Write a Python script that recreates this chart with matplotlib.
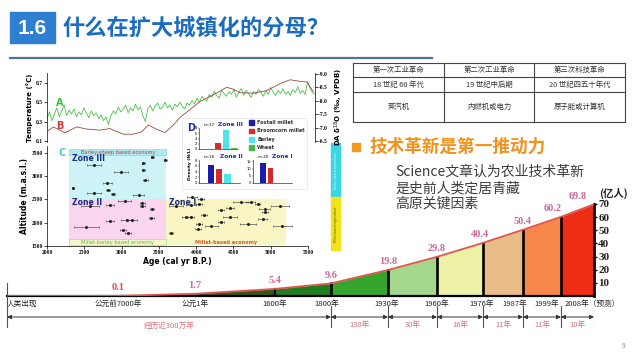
import numpy as np
import matplotlib
matplotlib.use('Agg')
import matplotlib.pyplot as plt
from matplotlib.patches import Rectangle

plt.rcParams['font.family'] = ['Noto Sans CJK SC', 'DejaVu Sans']

W, H = 640, 360

# ---------------- population chart (bottom) ----------------
milestones = ['人类出现', '公元前7000年', '公元1年', '1600年', '1800年', '1930年',
              '1960年', '1976年', '1987年', '1999年', '2008年（预测）']
milestone_pos = [0, 111, 188, 268, 324, 381, 430, 476, 516, 554, 587]   # schematic (uneven) axis
population = [0.0, 0.1, 1.7, 5.4, 9.6, 19.8, 29.8, 40.4, 50.4, 60.2, 69.8]  # 亿人
span_idx = [0, 4, 5, 6, 7, 8, 9, 10]
span_labels = ['经历近300万年', '130年', '30年', '16年', '11年', '11年', '10年']
fill_colors = ['#7a1f14', '#6a2a12', '#35561a', '#1f7d22', '#36a52e', '#a3d78b',
               '#eef2a6', '#e9bc88', '#f7874b', '#ef2d14']

# ---------------- table ----------------
table_rows = [['第一次工业革命', '第二次工业革命', '第三次科技革命'],
              ['18 世纪 60 年代', '19 世纪中后期', '20 世纪四五十年代'],
              ['蒸汽机', '内燃机或电力', '原子能或计算机']]

# ---------------- science figure, panel A/B ----------------
temp_a = [0.33, 0.40, 0.31, 0.38, 0.44, 0.35, 0.41, 0.47, 0.36, 0.42, 0.38,
          0.43, 0.35, 0.40, 0.37, 0.44, 0.39, 0.34, 0.41, 0.36, 0.39, 0.33, 0.37, 0.31, 0.35, 0.27,
          0.36, 0.41, 0.38, 0.45, 0.40, 0.43, 0.47, 0.39, 0.44, 0.41, 0.48, 0.42, 0.45, 0.36, 0.30,
          0.43, 0.47, 0.41, 0.46, 0.49, 0.43, 0.45, 0.50, 0.44, 0.47, 0.42, 0.48, 0.45, 0.50, 0.46, 0.43, 0.49, 0.47,
          0.52, 0.48, 0.54, 0.50, 0.56, 0.53, 0.51, 0.58, 0.55, 0.61, 0.57, 0.54, 0.62, 0.59,
          0.56, 0.61, 0.58, 0.63, 0.55, 0.60, 0.64, 0.57, 0.62, 0.59, 0.55, 0.61, 0.58, 0.63, 0.60,
          0.56, 0.62, 0.58, 0.65, 0.60, 0.57, 0.62, 0.59, 0.64, 0.58, 0.61, 0.57, 0.63, 0.60, 0.66,
          0.59, 0.62, 0.58, 0.71, 0.64, 0.60, 0.58]
b_age = [1996, 2083, 2235, 2388, 2518, 2692, 2823, 2888, 2997, 3127, 3237, 3323, 3433, 3541,
         3650, 3737, 3998, 4172, 4347, 4433, 4521, 4695, 4869, 5043, 5174, 5326, 5392, 5478]
b_d18o = [-6.85, -7.03, -6.81, -7.03, -6.95, -6.91, -6.97, -6.88, -6.76, -6.76, -6.85, -7.10,
          -6.94, -6.82, -7.10, -7.38, -7.97, -8.22, -8.50, -8.43, -8.30, -8.28, -8.38, -8.63,
          -8.78, -8.71, -8.70, -8.34]

# ---------------- panel C: site ages / altitudes ----------------
site_age = [3412, 3584, 2634, 3294, 2990, 3294, 3320, 2805, 2343, 2634, 2818, 2884, 3228,
            3043, 2581, 2845, 3280, 3280, 3412, 2845, 3069, 3135, 3399, 2528, 3016, 3082,
            3940, 4059, 3729, 3927, 4033, 4600, 4732, 4825, 4336, 4455, 4917, 4917, 5128,
            3861, 3927, 4099, 4455, 4891, 4336, 4033, 4204, 4693, 5155, 4020, 3663]
site_alt = [3415, 3351, 3245, 3287, 3096, 3139, 2926, 2862, 2755, 2649, 2713, 2628, 2606,
            2458, 2351, 2372, 2415, 2351, 2287, 2032, 2053, 2053, 2096, 1904, 1840, 1777,
            2564, 2500, 2351, 2372, 2394, 2436, 2436, 2394, 2266, 2309, 2287, 2223, 2351,
            2117, 2117, 2160, 2117, 2075, 2011, 1968, 1926, 1968, 1926, 1862, 1777]
site_err = [20, 20, 95, 25, 90, 25, 30, 60, 10, 95, 30, 30, 75,
            90, 120, 60, 30, 30, 25, 60, 75, 75, 30, 170, 40, 40,
            65, 40, 90, 65, 40, 100, 60, 30, 40, 50, 75, 40, 120,
            50, 40, 40, 90, 65, 40, 40, 90, 110, 130, 40, 30]

# ---------------- panel D: density bars ----------------
crop_names = ['Foxtail millet', 'Broomcorn millet', 'Barley', 'Wheat']
crop_colors = ['#1c1ca8', '#d42a2a', '#4fe3ea', '#45b84a']
dens_zone3 = [0, 2.2, 7.3, 0.4]
dens_zone2 = [6.2, 5.0, 3.1, 0]
dens_zone1 = [14.0, 10.5, 0, 0]


def px_box(x0, y0, x1, y1):
    '''axes rectangle from pixel corners (origin top-left)'''
    return [x0 / W, 1 - y1 / H, (x1 - x0) / W, (y1 - y0) / H]


fig = plt.figure(figsize=(6.4, 3.6), dpi=100)
fig.patch.set_facecolor('white')

# background axes in pixel coords for slide decorations
bg = fig.add_axes([0, 0, 1, 1])
bg.set_xlim(0, W)
bg.set_ylim(H, 0)
bg.axis('off')

# title
bg.add_patch(Rectangle((10, 12), 45, 31, color='#2e7fd1'))
bg.text(32.5, 28, '1.6', color='white', fontsize=15, fontweight='bold', ha='center', va='center',
        family='Liberation Sans')
bg.text(62, 28, '什么在扩大城镇化的分母？', color='#1c6cbf', fontsize=16, fontweight='bold',
        ha='left', va='center')
bg.plot([10, 432], [58, 58], color='#4d7499', lw=1.6)

# table
tx = [353, 444, 534, 625]
ty = [63, 77, 92, 122]
for x in tx:
    bg.plot([x, x], [ty[0], ty[-1]], color='#444444', lw=0.8)
for y in ty:
    bg.plot([tx[0], tx[-1]], [y, y], color='#444444', lw=0.8)
for r, row in enumerate(table_rows):
    for c, txt in enumerate(row):
        bg.text((tx[c] + tx[c + 1]) / 2, (ty[r] + ty[r + 1]) / 2, txt, fontsize=5.3,
                color='#333333', ha='center', va='center')

# headline + text
bg.add_patch(Rectangle((352, 143), 8, 8, color='#f39a1e'))
bg.text(369, 147, '技术革新是第一推动力', color='#f2921a', fontsize=12.7, fontweight='bold',
        ha='left', va='center')
bg.text(395, 172, 'Science文章认为农业技术革新', color='#3c3c3c', fontsize=10, ha='left', va='center')
bg.text(395, 188, '是史前人类定居青藏', color='#3c3c3c', fontsize=10, ha='left', va='center')
bg.text(395, 204, '高原关键因素', color='#3c3c3c', fontsize=10, ha='left', va='center')

# right colour strip of the science figure
bg.add_patch(Rectangle((331, 143), 9, 54, color='#3ad6e2'))
bg.add_patch(Rectangle((331, 197), 9, 53, color='#f2e21c'))
bg.text(335.5, 170, 'Barley-based agriculture', fontsize=2.2, rotation=90, ha='center', va='center',
        color='#d8f8fa', family='DejaVu Sans')
bg.text(335.5, 224, 'Millet-based agriculture', fontsize=2.2, rotation=90, ha='center', va='center',
        color='#6a5a00', family='DejaVu Sans')
bg.text(624, 346, '9', fontsize=5, color='#888888', ha='center', va='center')

# ---------------- panel A/B ----------------
tick_font = dict(family='Liberation Serif', fontweight='bold', fontsize=4)
ax_t = fig.add_axes(px_box(47, 73, 315, 142))
ax_t.patch.set_alpha(0)
ax_t.plot(np.arange(len(temp_a)), temp_a, color='#4cc04c', lw=0.6)
ax_t.set_xlim(0, len(temp_a) - 1)
ax_t.set_ylim(0.09, 0.80)
ax_t.set_yticks([0.1, 0.3, 0.5, 0.7])
ax_t.set_yticklabels(['0.1', '0.3', '0.5', '0.7'], **tick_font)
ax_t.set_xticks([])
for s in ['top', 'bottom', 'right']:
    ax_t.spines[s].set_visible(False)
ax_t.spines['left'].set_linewidth(0.5)
ax_t.tick_params(axis='y', length=2, width=0.5, pad=1)
ax_t.set_ylabel('Temperature (°C)', fontsize=5, fontweight='bold', family='DejaVu Sans', labelpad=2)

ax_b = fig.add_axes(px_box(47, 73, 315, 142))
ax_b.patch.set_alpha(0)
ax_b.plot(b_age, b_d18o, color='#9a4a3a', lw=0.6)
ax_b.set_xlim(2000, 5500)
ax_b.set_ylim(-6.47, -9.03)
ax_b.yaxis.tick_right()
ax_b.yaxis.set_label_position('right')
ax_b.set_yticks([-9.0, -8.5, -8.0, -7.5, -7.0, -6.5])
ax_b.set_yticklabels(['-9.0', '-8.5', '-8.0', '-7.5', '-7.0', '-6.5'], **tick_font)
ax_b.set_xticks([])
for s in ['top', 'bottom', 'left']:
    ax_b.spines[s].set_visible(False)
ax_b.spines['right'].set_linewidth(0.5)
ax_b.tick_params(axis='y', length=2, width=0.5, pad=1)
ax_b.set_ylabel('DA δ$^{18}$O (‰, VPDB)', fontsize=5, fontweight='bold', family='DejaVu Sans', labelpad=3)
ax_b.text(0.035, 0.57, 'A', transform=ax_b.transAxes, color='#3cc03c', fontsize=7, fontweight='bold',
          family='DejaVu Sans', va='center')
ax_b.text(0.035, 0.23, 'B', transform=ax_b.transAxes, color='#d03a3a', fontsize=7, fontweight='bold',
          family='DejaVu Sans', va='center')

# ---------------- panel C ----------------
ax_c = fig.add_axes(px_box(47, 146, 308, 246))
ax_c.set_xlim(2000, 5500)
ax_c.set_ylim(1500, 3650)
ax_c.add_patch(Rectangle((2300, 2500), 1300, 950, color='#cdf3f6', lw=0))
ax_c.add_patch(Rectangle((2300, 3450), 1300, 130, facecolor='#aee9f0', edgecolor='#6fd8e4', lw=0.4))
ax_c.add_patch(Rectangle((2300, 1650), 1300, 850, color='#f9d5f0', lw=0))
ax_c.add_patch(Rectangle((3600, 1650), 1600, 850, color='#faf6c4', lw=0))
ax_c.add_patch(Rectangle((2300, 1520), 2900, 130, color='#f4f8c8', lw=0))
ax_c.add_patch(Rectangle((2300, 1520), 1300, 130, fill=False, edgecolor='#9ad67a', lw=0.4))
ax_c.text(2950, 3515, 'Barley-sheep based economy', fontsize=3.6, color='#b04040', ha='center',
          va='center', family='DejaVu Sans')
ax_c.text(2950, 1585, 'Millet-barley based economy', fontsize=3.6, color='#5cb848', ha='center',
          va='center', family='DejaVu Sans')
ax_c.text(4400, 1585, 'Millet-based economy', fontsize=3.6, color='#d0602a', ha='center',
          va='center', family='DejaVu Sans', fontweight='bold')
ax_c.text(2330, 3380, 'Zone III', fontsize=5.5, color='#1a2a80', fontweight='bold', family='DejaVu Sans', va='center')
ax_c.text(2330, 2430, 'Zone II', fontsize=5.5, color='#1a2a80', fontweight='bold', family='DejaVu Sans', va='center')
ax_c.text(3630, 2430, 'Zone I', fontsize=5.5, color='#1a2a80', fontweight='bold', family='DejaVu Sans', va='center')
ax_c.text(2150, 3500, 'C', fontsize=7, color='#4cc8e0', fontweight='bold', family='DejaVu Sans', va='center')
ax_c.errorbar(site_age, site_alt, xerr=site_err, fmt='o', ms=1.2, color='#222222', ecolor='#333333',
              elinewidth=0.4, capsize=0.8, capthick=0.4)
ax_c.set_xticks(range(2000, 5501, 500))
ax_c.set_xticklabels([str(v) for v in range(2000, 5501, 500)], **tick_font)
ax_c.set_yticks(range(1500, 3501, 500))
ax_c.set_yticklabels([str(v) for v in range(1500, 3501, 500)], **tick_font)
for s in ['top', 'right']:
    ax_c.spines[s].set_visible(False)
for s in ['left', 'bottom']:
    ax_c.spines[s].set_linewidth(0.5)
ax_c.tick_params(length=2, width=0.5, pad=1)
ax_c.set_xlabel('Age (cal yr B.P.)', fontsize=5.5, fontweight='bold', family='DejaVu Sans', labelpad=1)
ax_c.set_ylabel('Altitude (m.a.s.l.)', fontsize=5.5, fontweight='bold', family='DejaVu Sans', labelpad=2)

# ---------------- panel D (inset) ----------------
ax_d = fig.add_axes(px_box(182, 118, 307, 189))
ax_d.set_xticks([])
ax_d.set_yticks([])
for s in ax_d.spines.values():
    s.set_edgecolor('#e4e4e4')
    s.set_linewidth(0.5)
ax_d.text(0.04, 0.86, 'D', transform=ax_d.transAxes, fontsize=7, color='#2030b0', fontweight='bold',
          family='DejaVu Sans', va='center')
ax_d.text(0.06, 0.35, 'Density (N/L)', transform=ax_d.transAxes, fontsize=3.2, rotation=90,
          fontweight='bold', family='DejaVu Sans', ha='center', va='center')
for k, name in enumerate(crop_names):
    yk = 0.94 - k * 0.118
    ax_d.add_patch(Rectangle((0.535, yk - 0.04), 0.04, 0.07, transform=ax_d.transAxes,
                             color=crop_colors[k]))
    ax_d.text(0.60, yk, name, transform=ax_d.transAxes, fontsize=3.5, fontweight='bold',
              family='DejaVu Sans', color='#333333', va='center')


def density_panel(rect, values, ymax, yticks, n_label, zone_label, xlo):
    '''one small bar panel of the inset'''
    a = fig.add_axes(px_box(*rect))
    a.bar(range(len(values)), values, width=0.75, color=crop_colors)
    a.set_xlim(xlo, xlo + 4.9)
    a.set_ylim(0, ymax)
    a.set_xticks([])
    a.set_yticks(yticks)
    a.set_yticklabels([str(v) for v in yticks], fontsize=2.6, family='DejaVu Sans')
    a.tick_params(length=1, width=0.3, pad=0.5)
    a.patch.set_alpha(0)
    for s in ['top', 'right']:
        a.spines[s].set_visible(False)
    for s in ['left', 'bottom']:
        a.spines[s].set_linewidth(0.4)
    a.text(0.12, 1.05, n_label, transform=a.transAxes, fontsize=3, family='DejaVu Sans', va='bottom')
    a.text(0.50, 1.05, zone_label, transform=a.transAxes, fontsize=4.2, color='#2030b0',
           fontweight='bold', family='DejaVu Sans', va='bottom')
    return a


density_panel((199, 128, 238, 149), dens_zone3, 8, [0, 2, 4, 6, 8], 'n=17', 'Zone III', -1.4)
density_panel((199, 160, 240, 183), dens_zone2, 8, [0, 2, 4, 6, 8], 'n=16', 'Zone II', -1.4)
density_panel((253, 160, 292, 183), dens_zone1, 16, [0, 5, 10, 15], 'n=20', 'Zone I', -1.2)

# ---------------- population chart ----------------
ax = fig.add_axes(px_box(7, 197.4, 594, 296))
ax.patch.set_alpha(0)
ax.set_xlim(0, 587)
ax.set_ylim(0, 75)
for i in range(len(milestone_pos) - 1):
    xs = [milestone_pos[i], milestone_pos[i + 1]]
    ys = [population[i], population[i + 1]]
    ax.fill_between(xs, ys, 0, color=fill_colors[i], lw=0)
for i in range(3, len(milestone_pos) - 1):
    ax.plot([milestone_pos[i]] * 2, [0, population[i]], color='black', lw=1.5 if i == 3 else 1.9)
ax.plot(milestone_pos, population, color='#e0554d', lw=1.3, zorder=4)

value_dx = [0, 0, 0, 0, 0, 0, 0, -2, 0, -6, -12]
for i in range(1, len(population)):
    ax.annotate(f'{population[i]}', (milestone_pos[i], population[i]), xytext=(value_dx[i], 2.5),
                textcoords='offset points', ha='center', va='bottom', fontsize=7.5,
                color='#dd4c4c' if i == 1 else '#cc6a9c', family='Liberation Serif', fontweight='bold')

# milestone labels under the baseline (the crowded right end is nudged left as in the slide)
tick_dx = [0, 0, 0, 0, -3, -1, 0, -1, -6, -10, -21]
tick_ha = ['left'] + ['center'] * 9 + ['left']
for i, name in enumerate(milestones):
    ax.annotate(name, (milestone_pos[i], 0), xytext=(tick_dx[i], -3), textcoords='offset points',
                ha=tick_ha[i], va='top', fontsize=5.5, color='#222222', annotation_clip=False)

for s in ['top', 'left']:
    ax.spines[s].set_visible(False)
ax.spines['bottom'].set_linewidth(1.6)
ax.spines['right'].set_linewidth(2)
ax.spines['right'].set_bounds(0, 70)
ax.yaxis.tick_right()
ax.set_yticks(range(10, 71, 10))
ax.set_yticklabels([str(v) for v in range(10, 71, 10)], family='Liberation Serif', fontweight='bold',
                   fontsize=8, color='#222222')
ax.tick_params(axis='y', length=2, width=1, pad=1)
ax.set_xticks([])
bg.text(613, 193, '(亿人)', fontsize=7.5, fontweight='bold', ha='center', va='center', color='#222222')

# time span arrows under the axis
ax_dim = fig.add_axes(px_box(7, 300, 594, 335))
ax_dim.set_xlim(0, 587)
ax_dim.set_ylim(35, 0)
ax_dim.axis('off')
ax_dim.plot([0, 0], [-17, 27], color='#555555', lw=0.8, clip_on=False)
for j in range(len(span_idx) - 1):
    a = milestone_pos[span_idx[j]]
    b = milestone_pos[span_idx[j + 1]]
    ax_dim.annotate('', xy=(b, 17), xytext=(a, 17),
                    arrowprops=dict(arrowstyle='<|-|>', color='#333333', lw=0.7, mutation_scale=6,
                                    shrinkA=0, shrinkB=0))
    ax_dim.plot([b, b], [6, 27], color='#555555', lw=0.8)
    ax_dim.text((a + b) / 2, 25.5, span_labels[j], fontsize=5.5, color='#d9707f', ha='center', va='center')

fig.savefig('out.png', dpi=100)
